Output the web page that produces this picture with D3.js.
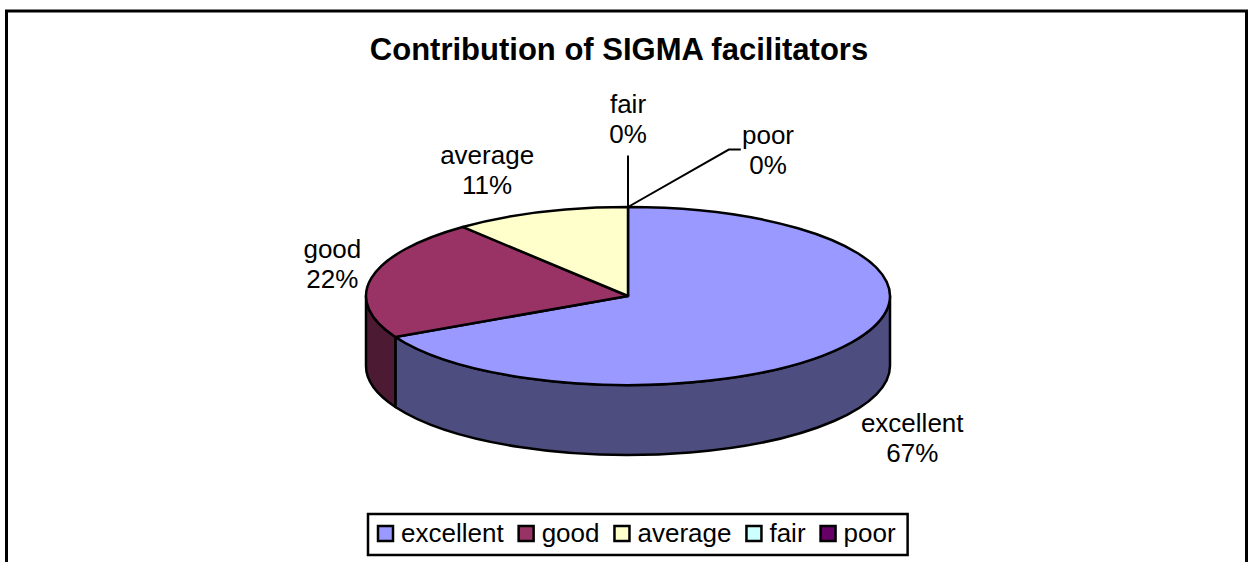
<!DOCTYPE html>
<html>
<head>
<meta charset="utf-8">
<script src="https://cdn.jsdelivr.net/npm/d3@7"></script>
<style>
  body { margin: 0; background: #fff; }
  text { font-family: "Liberation Sans", Arial, sans-serif; fill: #000; }
</style>
</head>
<body>
<svg id="chart" width="1249" height="562"></svg>
<script>
// chart data
var categories = ["excellent", "good", "average", "fair", "poor"];
var values = [31, 10, 5, 0, 0];
var colors = ["#9999FF", "#993366", "#FFFFCC", "#CCFFFF", "#660066"];
var chartTitle = "Contribution of SIGMA facilitators";

// layout of the 3d pie
var cx = 628, cy = 296, rx = 262, ry = 89, depth = 70;
var labelSize = 26, lineGap = 30;
// labels that Excel moved off their default spot
var labelNudge = [[5, 7], [2, -8], [-33, -11], [0, -55], [140, -24]];

var svg = d3.select("#chart");

// chart area border
svg.append("rect")
    .attr("x", 6.5)
    .attr("y", 11)
    .attr("width", 1240)
    .attr("height", 600)
    .attr("fill", "#fff")
    .attr("stroke", "#000")
    .attr("stroke-width", 3);

svg.append("text")
    .attr("x", 619)
    .attr("y", 60)
    .attr("text-anchor", "middle")
    .attr("font-size", "31px")
    .attr("font-weight", "bold")
    .text(chartTitle);

var total = d3.sum(values);
var pct = d3.format(".0%");
var arcs = d3.pie().sort(null).value(function (d) { return d; })(values);

function pt(a, k, dy) {
    k = k || 1;
    return [cx + rx * k * Math.sin(a), cy - ry * k * Math.cos(a) + (dy || 0)];
}

function sideColor(c) {
    var rgb = d3.rgb(c);
    return d3.rgb(rgb.r * 0.5, rgb.g * 0.5, rgb.b * 0.5).formatHex();
}

var pieG = svg.append("g");

// front walls, only the part facing the viewer
arcs.forEach(function (d, i) {
    var a0 = Math.max(d.startAngle, Math.PI / 2);
    var a1 = Math.min(d.endAngle, 3 * Math.PI / 2);
    if (a1 <= a0) return;
    var p0 = pt(a0), p1 = pt(a1), q1 = pt(a1, 1, depth), q0 = pt(a0, 1, depth);
    var path = "M" + p0 + "A" + rx + "," + ry + " 0 0 1 " + p1 +
        "L" + q1 + "A" + rx + "," + ry + " 0 0 0 " + q0 + "Z";
    pieG.append("path")
        .attr("d", path)
        .attr("fill", sideColor(colors[i]))
        .attr("stroke", "#000")
        .attr("stroke-width", 2.5)
        .attr("stroke-linejoin", "round");
});

// top faces
arcs.forEach(function (d, i) {
    if (d.endAngle - d.startAngle <= 0) return;
    var p0 = pt(d.startAngle), p1 = pt(d.endAngle);
    var large = (d.endAngle - d.startAngle) > Math.PI ? 1 : 0;
    var path = "M" + cx + "," + cy + "L" + p0 +
        "A" + rx + "," + ry + " 0 " + large + " 1 " + p1 + "Z";
    pieG.append("path")
        .attr("d", path)
        .attr("fill", colors[i])
        .attr("stroke", "#000")
        .attr("stroke-width", 2.5)
        .attr("stroke-linejoin", "round");
});

// data labels
var labelG = svg.append("g");
arcs.forEach(function (d, i) {
    var mid = (d.startAngle + d.endAngle) / 2;
    var s = Math.sin(mid), c = Math.cos(mid);
    var anchor = pt(mid, 1.05, c < 0 ? depth : 0);

    var g = labelG.append("g");
    var t = g.append("text")
        .attr("text-anchor", "middle")
        .attr("font-size", labelSize + "px");
    t.append("tspan").attr("x", 0).attr("y", -5).text(categories[i]);
    t.append("tspan").attr("x", 0).attr("y", -5 + lineGap).text(pct(values[i] / total));
    var w = t.node().getBBox().width;

    var lx = anchor[0] + s * w / 2 + labelNudge[i][0];
    var ly = anchor[1] - c * 30 + labelNudge[i][1];
    g.attr("transform", "translate(" + lx + "," + ly + ")");

    var moved = Math.hypot(labelNudge[i][0], labelNudge[i][1]);
    if (moved > 45) {
        var from = pt(mid);
        var pts;
        if (Math.abs(lx - from[0]) < w / 2) {
            pts = [from, [lx, ly + 38]];
        } else {
            var edge = lx - w / 2 - 1;
            pts = [from, [edge - 12, ly + 1], [edge, ly + 1]];
        }
        labelG.append("path")
            .attr("d", d3.line()(pts))
            .attr("fill", "none")
            .attr("stroke", "#000")
            .attr("stroke-width", 2);
    }
});

// legend
var legend = svg.append("g");
var legendBox = legend.append("rect")
    .attr("y", 514)
    .attr("height", 41)
    .attr("fill", "#fff")
    .attr("stroke", "#000")
    .attr("stroke-width", 2.5);
var lx0 = 378, x = lx0;
categories.forEach(function (name, i) {
    legend.append("rect")
        .attr("x", x)
        .attr("y", 526)
        .attr("width", 15)
        .attr("height", 15)
        .attr("fill", colors[i])
        .attr("stroke", "#000")
        .attr("stroke-width", 2.5);
    var t = legend.append("text")
        .attr("x", x + 23)
        .attr("y", 542)
        .attr("font-size", labelSize + "px")
        .text(name);
    x = x + 23 + t.node().getComputedTextLength() + 15;
});
legendBox.attr("x", lx0 - 10).attr("width", x - 15 + 12 - (lx0 - 10));
</script>
</body>
</html>
